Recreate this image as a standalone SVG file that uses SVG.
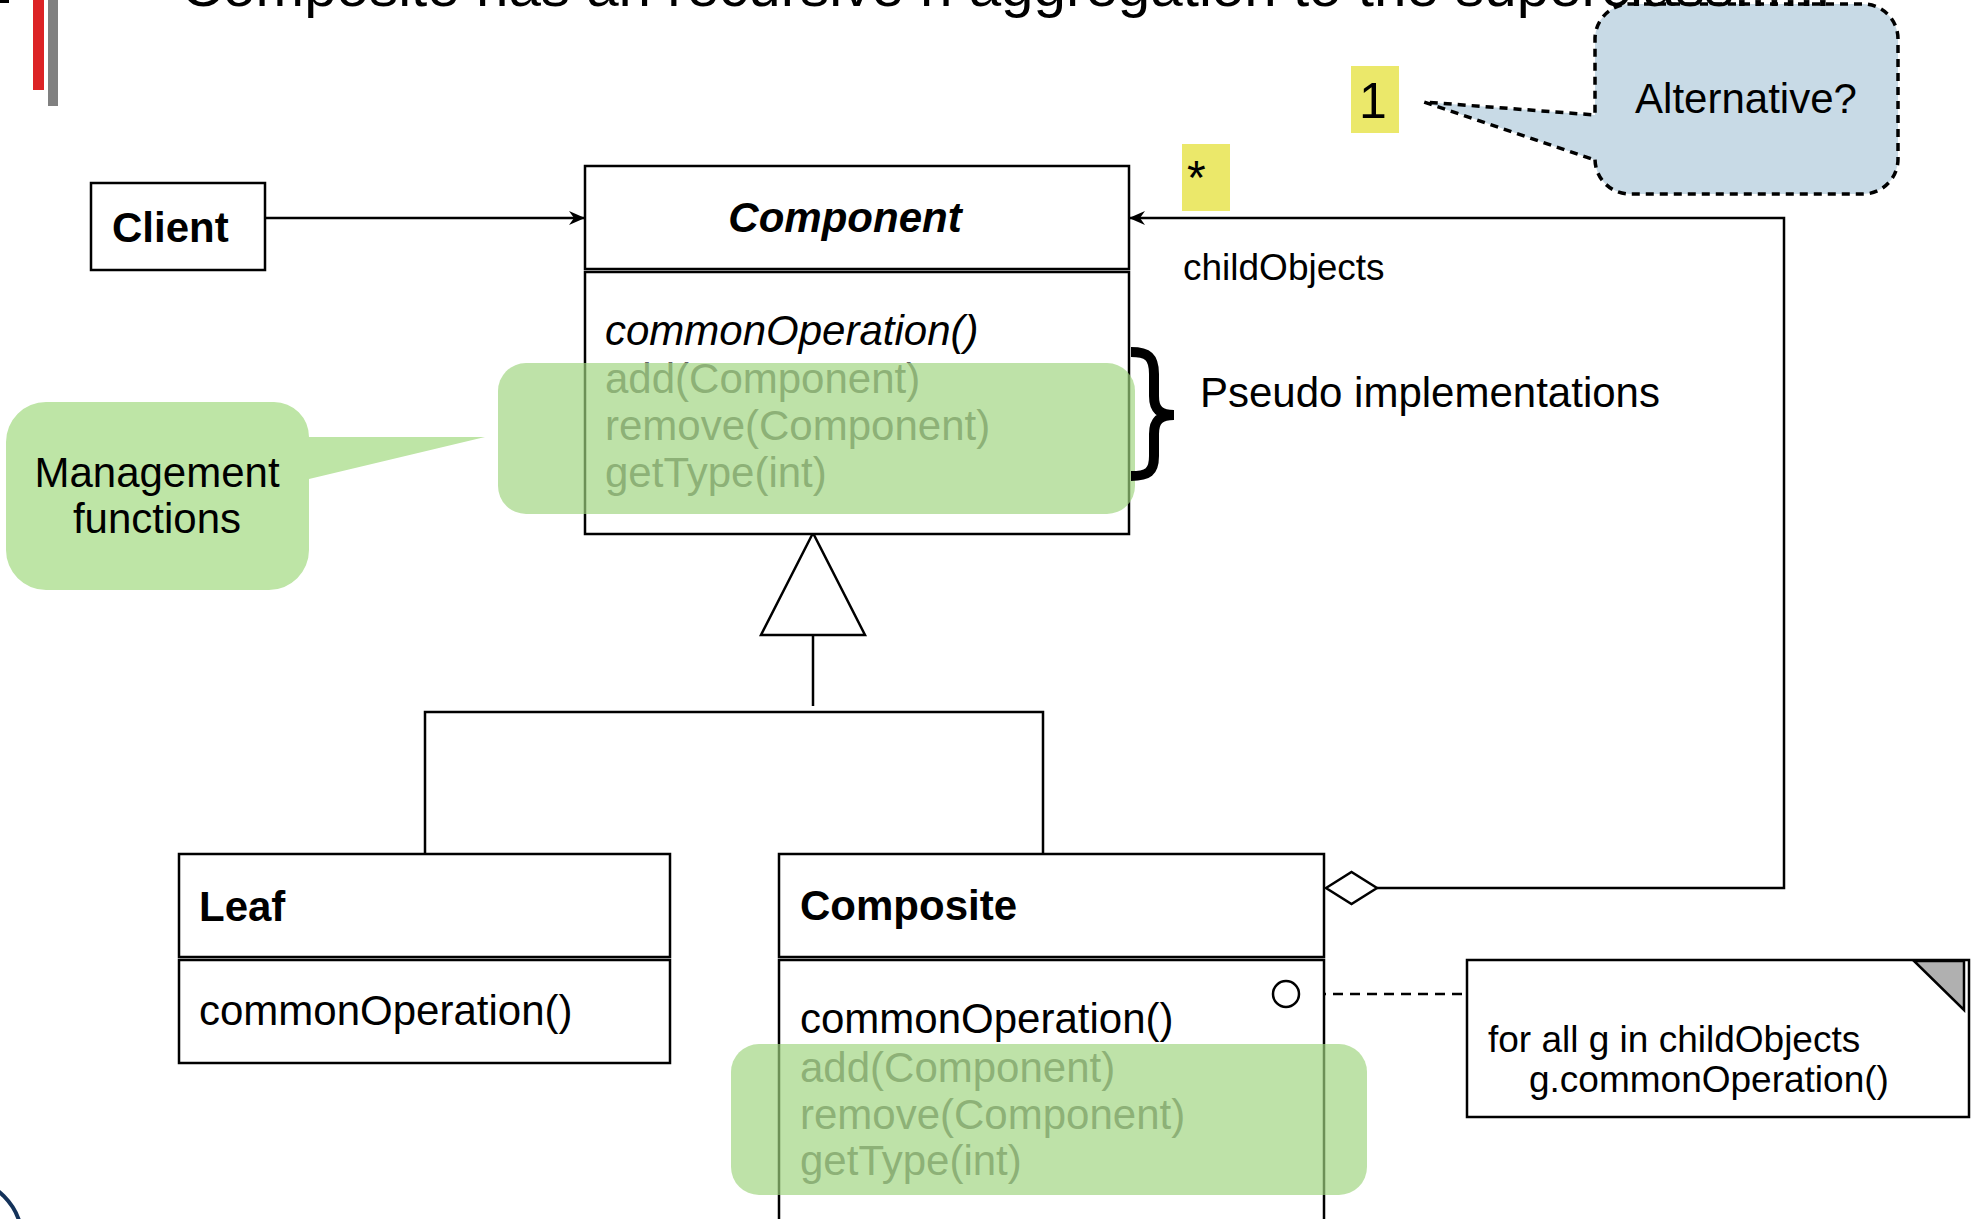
<svg xmlns="http://www.w3.org/2000/svg" width="1984" height="1219" viewBox="0 0 1984 1219">
  <style>
    text { font-family: "Liberation Sans", Arial, sans-serif; fill: #000; }
    .box { fill: #fff; stroke: #000; stroke-width: 2.5; }
    .line { fill: none; stroke: #000; stroke-width: 2.5; }
    .cls { font-size: 42px; font-weight: bold; }
    .op { font-size: 42px; }
    .mgmt { font-size: 42px; fill: #666; }
    .hl { fill: #9fd47f; opacity: 0.68; }
    .tag { fill: #ebe86a; }
  </style>
  <defs>
    <marker id="arrow" viewBox="0 0 18 16" refX="17" refY="8" markerWidth="18" markerHeight="16" markerUnits="userSpaceOnUse" orient="auto">
      <path d="M17,8 L1,1 L6,8 L1,15 Z" fill="#000"/>
    </marker>
  </defs>

  <!-- slide decoration -->
  <rect x="0" y="0" width="9" height="3" fill="#000"/>
  <rect x="33" y="0" width="11" height="90" fill="#dc2325"/>
  <rect x="48" y="0" width="10" height="106" fill="#808080"/>
  <circle cx="-40" cy="1240" r="62" fill="none" stroke="#14325a" stroke-width="4"/>

  <!-- alternative callout -->
  <g id="alternative">
    <path d="M1630,4 H1863 A35,35 0 0 1 1898,39 V159 A35,35 0 0 1 1863,194 H1630 A35,35 0 0 1 1595,159 V160 L1424,102 L1595,115 V39 A35,35 0 0 1 1630,4 Z" fill="#c8dae6" stroke="#000" stroke-width="3.5" stroke-dasharray="8,6"/>
    <text x="1746" y="113" font-size="42" text-anchor="middle">Alternative?</text>
  </g>

  <text id="title" x="181" y="6" font-size="56" textLength="1650" lengthAdjust="spacingAndGlyphs">Composite has an recursive n aggregation to the superclass......</text>

  <!-- multiplicities -->
  <g id="mult-one">
    <rect class="tag" x="1351" y="66" width="48" height="67"/>
    <text x="1373" y="118" font-size="50" text-anchor="middle">1</text>
  </g>
  <g id="mult-many">
    <rect class="tag" x="1182" y="144" width="48" height="67"/>
    <text x="1187" y="194" font-size="48">*</text>
  </g>

  <!-- connectors -->
  <g id="connectors">
    <line class="line" x1="265" y1="218" x2="585" y2="218" marker-end="url(#arrow)"/>
    <polyline class="line" points="1377,888 1784,888 1784,218 1129,218" marker-end="url(#arrow)"/>
    <polygon points="1326,888 1351.5,872 1377,888 1351.5,904" fill="#fff" stroke="#000" stroke-width="2.5"/>
    <polygon points="813,533 761,635 865,635" fill="#fff" stroke="#000" stroke-width="2.5"/>
    <line class="line" x1="813" y1="635" x2="813" y2="706"/>
    <polyline class="line" points="425,854 425,712 1043,712 1043,854"/>
    <line class="line" x1="1299" y1="994" x2="1467" y2="994" stroke-dasharray="10,7"/>
  </g>

  <g id="client">
    <rect class="box" x="91" y="183" width="174" height="87"/>
    <text class="cls" x="112" y="242">Client</text>
  </g>

  <g id="component">
    <rect class="box" x="585" y="166" width="544" height="103"/>
    <rect class="box" x="585" y="272" width="544" height="262"/>
    <text class="cls" x="845" y="232" font-style="italic" text-anchor="middle">Component</text>
    <text class="op" x="605" y="345" font-style="italic">commonOperation()</text>
    <text class="mgmt" x="605" y="393">add(Component)</text>
    <text class="mgmt" x="605" y="440">remove(Component)</text>
    <text class="mgmt" x="605" y="487">getType(int)</text>
    <rect class="hl" x="498" y="363" width="637" height="151" rx="28" ry="28"/>
  </g>

  <g id="pseudo">
    <path d="M1131,352 C1148,352 1154,357 1154,374 V396 C1154,410 1160,415 1174,415 C1160,415 1154,420 1154,434 V456 C1154,472 1148,476 1131,476" fill="none" stroke="#000" stroke-width="10"/>
    <text x="1200" y="407" font-size="42">Pseudo implementations</text>
  </g>

  <text x="1183" y="280" font-size="37">childObjects</text>

  <g id="management">
    <path d="M46,402 H274 A35,35 0 0 1 309,437 L485,437 L309,479 V550 A40,40 0 0 1 269,590 H46 A40,40 0 0 1 6,550 V442 A40,40 0 0 1 46,402 Z" fill="#bee5a6"/>
    <text x="157" y="487" font-size="42" text-anchor="middle">Management</text>
    <text x="157" y="533" font-size="42" text-anchor="middle">functions</text>
  </g>

  <g id="leaf">
    <rect class="box" x="179" y="854" width="491" height="103"/>
    <rect class="box" x="179" y="960" width="491" height="103"/>
    <text class="cls" x="199" y="921">Leaf</text>
    <text class="op" x="199" y="1025">commonOperation()</text>
  </g>

  <g id="composite">
    <rect class="box" x="779" y="854" width="545" height="103"/>
    <rect class="box" x="779" y="960" width="545" height="290"/>
    <text class="cls" x="800" y="920">Composite</text>
    <text class="op" x="800" y="1033">commonOperation()</text>
    <text class="mgmt" x="800" y="1082">add(Component)</text>
    <text class="mgmt" x="800" y="1129">remove(Component)</text>
    <text class="mgmt" x="800" y="1175">getType(int)</text>
    <rect class="hl" x="731" y="1044" width="636" height="151" rx="28" ry="28"/>
    <circle cx="1286" cy="994" r="13" fill="#fff" stroke="#000" stroke-width="2.5"/>
  </g>

  <g id="note">
    <rect class="box" x="1467" y="960" width="502" height="157"/>
    <polygon points="1914,961 1964,961 1964,1010" fill="#b0b0b0" stroke="#000" stroke-width="2.5"/>
    <text x="1488" y="1052" font-size="37">for all g in childObjects</text>
    <text x="1529" y="1092" font-size="37">g.commonOperation()</text>
  </g>
</svg>
